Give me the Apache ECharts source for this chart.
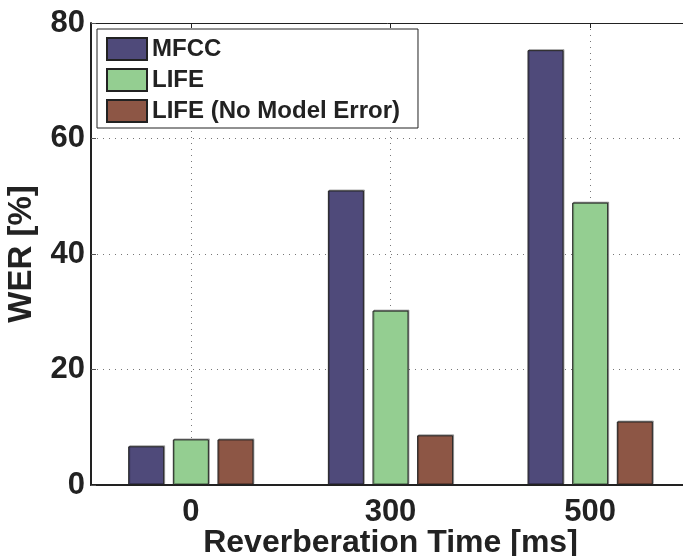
<!DOCTYPE html>
<html>
<head>
<meta charset="utf-8">
<script src="https://cdn.jsdelivr.net/npm/echarts@6/dist/echarts.min.js"></script>
<style>
  html, body { margin: 0; padding: 0; background: #fff; overflow: hidden; }
  #chart { width: 683px; height: 556px; }
</style>
</head>
<body>
<div id="chart"></div>
<script>
// Word error rate for each reverberation time
const categories = ['0', '300', '500'];
const mfcc = [6.7, 51.0, 75.3];
const life = [7.9, 30.2, 48.9];
const lifeNoModelError = [7.9, 8.6, 11.0];
const yTicks = { min: 0, max: 80, interval: 20 };

const FONT = '"Liberation Sans", Arial, Helvetica, sans-serif';
const INK = '#222';

function barSeries(name, data, color) {
  return {
    name: name,
    type: 'bar',
    data: data,
    barWidth: 36,
    barGap: '24%',
    itemStyle: {
      color: color,
      borderColor: INK,
      borderWidth: 1,
      shadowColor: 'rgba(0,0,0,0.3)',
      shadowBlur: 0,
      shadowOffsetX: 1,
      shadowOffsetY: -1
    },
    emphasis: { disabled: true }
  };
}

const chart = echarts.init(document.getElementById('chart'), null, { renderer: 'canvas' });
chart.setOption({
  animation: false,
  backgroundColor: '#fff',
  grid: {
    left: 91, top: 23, right: -7, bottom: 71,
    containLabel: false,
    outerBoundsMode: 'none'
  },
  legend: {
    orient: 'vertical',
    left: 97,
    top: 29,
    padding: [8, 18, 5, 9],
    itemWidth: 40,
    itemHeight: 22,
    itemGap: 7,
    icon: 'rect',
    backgroundColor: '#fff',
    borderColor: INK,
    borderWidth: 1,
    borderRadius: 0,
    textStyle: { fontFamily: FONT, fontWeight: 'bold', fontSize: 24, lineHeight: 22, color: INK, padding: [0, 0, 0, 0] },
    data: ['MFCC', 'LIFE', 'LIFE (No Model Error)']
  },
  xAxis: [
    {
      type: 'category',
      data: categories,
      position: 'bottom',
      name: 'Reverberation Time [ms]',
      nameLocation: 'middle',
      nameMoveOverlap: false,
      nameGap: 42,
      nameTextStyle: { fontFamily: FONT, fontWeight: 'bold', fontSize: 32, color: INK },
      axisLine: { show: true, lineStyle: { color: INK, width: 2 } },
      axisTick: { show: false },
      axisLabel: { fontFamily: FONT, fontWeight: 'bold', fontSize: 31, color: INK, margin: 12 },
      splitLine: {
        show: true,
        alignWithLabel: true,
        lineStyle: { color: '#777', width: 1, type: [1, 5] }
      }
    },
    {
      type: 'category',
      data: categories,
      position: 'top',
      axisLine: { show: true, lineStyle: { color: INK, width: 1 } },
      axisTick: { show: true, inside: true, alignWithLabel: true, length: 5, lineStyle: { color: INK } },
      axisLabel: { show: false },
      splitLine: { show: false }
    }
  ],
  yAxis: {
    type: 'value',
    min: yTicks.min,
    max: yTicks.max,
    interval: yTicks.interval,
    name: 'WER [%]',
    nameLocation: 'middle',
    nameMoveOverlap: false,
    nameGap: 53,
    nameRotate: 90,
    nameTextStyle: { fontFamily: FONT, fontWeight: 'bold', fontSize: 33, color: INK },
    axisLine: { show: true, lineStyle: { color: INK, width: 2 } },
    axisTick: { show: true, inside: true, length: 5, lineStyle: { color: '#555' } },
    axisLabel: { fontFamily: FONT, fontWeight: 'bold', fontSize: 31, color: INK, margin: 6 },
    splitLine: { show: true, lineStyle: { color: '#777', width: 1, type: [1, 5] } }
  },
  series: [
    barSeries('MFCC', mfcc, '#4f4a7a'),
    barSeries('LIFE', life, '#94ce91'),
    barSeries('LIFE (No Model Error)', lifeNoModelError, '#8d5645')
  ]
});
</script>
</body>
</html>
